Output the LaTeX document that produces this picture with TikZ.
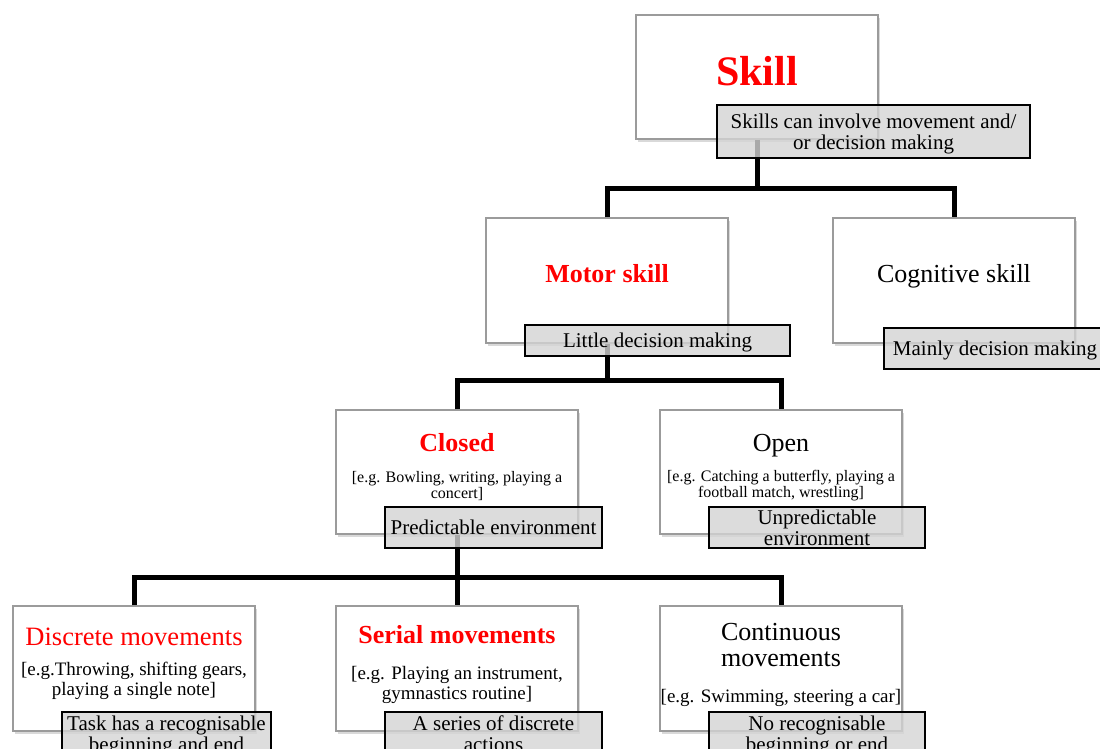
\documentclass[tikz,border=0pt]{standalone}
\usepackage{fontspec}
\setmainfont{Liberation Serif}
\usepackage{xcolor}
\usepackage{tikz}
\usetikzlibrary{calc}
\usetikzlibrary{shadows}
\definecolor{boxline}{RGB}{155,155,155}
\definecolor{notefill}{RGB}{212,212,212}
\definecolor{skillred}{RGB}{255,0,0}

\tikzset{
    skillbox/.style={draw=boxline, line width=1.2pt, fill=white, minimum width=242pt, minimum height=124pt, inner sep=0pt,
        drop shadow={shadow xshift=2pt, shadow yshift=-3pt, opacity=0.3}},
    notebox/.style={draw=black, line width=1.4pt, fill=notefill, fill opacity=0.8, text opacity=1, inner sep=1pt,
        text depth=0pt, align=center, font=\fontsize{21}{21}\selectfont},
    conn/.style={line width=5pt},
    heading/.style={inner sep=0pt, align=center, font=\fontsize{26}{26}\selectfont},
    smalleg/.style={inner sep=0pt, align=center, font=\fontsize{16}{16}\selectfont},
    eg/.style={inner sep=0pt, align=center, font=\fontsize{19}{20}\selectfont},
}

\begin{document}
\begin{tikzpicture}[x=1pt, y=-1pt]
    \useasboundingbox (0,0) rectangle (1100,749);
    \clip (0,0) rectangle (1100,749);
    %KOTAK
    \node[skillbox] (skill) at (757,77) {};
    \node[skillbox, minimum height=125pt] (motor) at (607,280.5) {};
    \node[skillbox, minimum height=125pt] (cognitive) at (954,280.5) {};
    \node[skillbox] (closed) at (457,472) {};
    \node[skillbox] (open) at (781,472) {};
    \node[skillbox, minimum height=125pt] (discrete) at (134,668.5) {};
    \node[skillbox, minimum height=125pt] (serial) at (457,668.5) {};
    \node[skillbox, minimum height=125pt] (continuous) at (781,668.5) {};
    %JUDUL
    \node[inner sep=0pt, anchor=base, text=skillred, font=\fontsize{42}{42}\selectfont\bfseries] (skilltitle) at (757,86) {Skill};
    \node[heading, anchor=base, text=skillred, font=\fontsize{26}{26}\selectfont\bfseries] (motortitle) at (607,282) {Motor skill};
    \node[heading, anchor=base] (cognitivetitle) at (954,282) {Cognitive skill};
    \node[heading, anchor=base, text=skillred, font=\fontsize{26}{26}\selectfont\bfseries] (closedtitle) at (457,451) {Closed};
    \node[heading, anchor=base] (opentitle) at (781,451) {Open};
    \node[heading, anchor=base, text=skillred, font=\fontsize{26.5}{26}\selectfont] (discretetitle) at (134,645) {Discrete movements};
    \node[heading, anchor=base, text=skillred, font=\fontsize{26}{26}\selectfont\bfseries] (serialtitle) at (457,643) {Serial movements};
    \node[heading] (continuoustitle) at (781,645) {Continuous\\movements};
    %CONTOH
    \node[smalleg] (closedeg) at (457,486) {[e.g. Bowling, writing, playing a\\concert]};
    \node[smalleg] (openeg) at (781,486) {[e.g. Catching a butterfly, playing a\\football match, wrestling]};
    \node[eg] (discreteeg) at (134,681) {[e.g.Throwing, shifting gears,\\playing a single note]};
    \node[eg] (serialeg) at (457,684.5) {[e.g. Playing an instrument,\\gymnastics routine]};
    \node[eg, anchor=base] (continuouseg) at (781,702) {[e.g. Swimming, steering a car]};
    %GARIS
    \draw[conn] (skill.south) -- ++(0,49) coordinate (j1);
    \draw[conn] (motor.north) |- (j1) -| (cognitive.north);
    \draw[conn] (motor.south) -- ++(0,37) coordinate (j2);
    \draw[conn] (closed.north) |- (j2) -| (open.north);
    \draw[conn] (closed.south) -- ++(0,43) coordinate (j3);
    \draw[conn] (discrete.north) |- (j3) -| (continuous.north);
    \draw[conn] (j3) -- (serial.north);
    %CATATAN
    \node[notebox, minimum width=313pt, minimum height=53pt] (skillnote) at (873.5,131.5) {Skills can involve movement and/\\or decision making};
    \node[notebox, minimum width=265pt, minimum height=31pt] (motornote) at (657.5,340.5) {Little decision making};
    \node[notebox, minimum width=222pt, minimum height=41pt] (cognitivenote) at (995,348.5) {Mainly decision making};
    \node[notebox, minimum width=217pt, minimum height=41pt] (closednote) at (493.5,527.5) {Predictable environment};
    \node[notebox, minimum width=216pt, minimum height=41pt] (opennote) at (817,527.5) {Unpredictable\\environment};
    \node[notebox, minimum width=209pt, minimum height=43pt] (discretenote) at (166.5,733.5) {Task has a recognisable\\beginning and end};
    \node[notebox, minimum width=217pt, minimum height=43pt] (serialnote) at (493.5,733.5) {A series of discrete\\actions};
    \node[notebox, minimum width=216pt, minimum height=43pt] (continuousnote) at (817,733.5) {No recognisable\\beginning or end};
\end{tikzpicture}
\end{document}
